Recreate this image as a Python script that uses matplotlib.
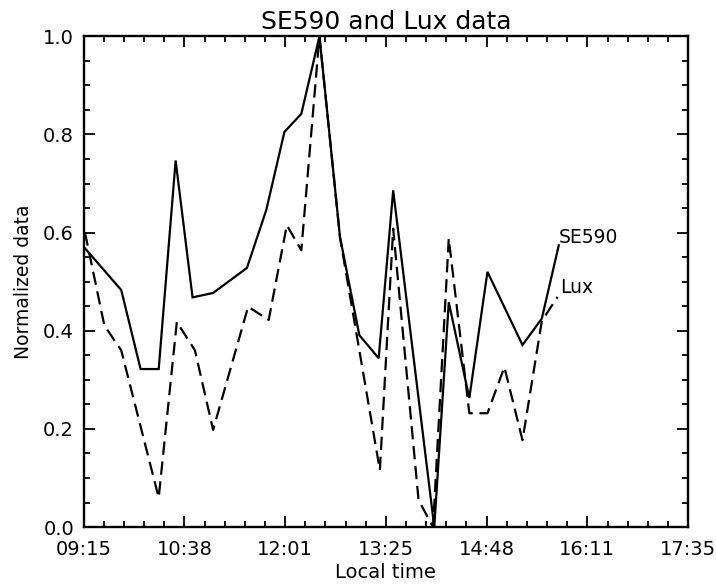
import matplotlib.pyplot as plt
from matplotlib.ticker import MultipleLocator, FixedLocator

# minutes after midnight, normalized values
se590_time = [556, 586, 602, 617, 631, 645, 662, 690, 706, 721, 735, 750,
              767, 783, 799, 811, 845, 857, 874, 889, 918, 934, 948]
se590_vals = [0.568, 0.483, 0.322, 0.322, 0.747, 0.468, 0.477, 0.528, 0.646,
              0.805, 0.842, 1.0, 0.591, 0.391, 0.344, 0.686, 0.0, 0.458,
              0.263, 0.520, 0.371, 0.425, 0.574]

lux_time = [556, 572, 586, 617, 632, 647, 662, 691, 708, 723, 735, 750, 767,
            783, 800, 811, 832, 844, 857, 874, 889, 903, 918, 934, 947]
lux_vals = [0.600, 0.411, 0.360, 0.060, 0.418, 0.360, 0.198, 0.449, 0.422,
            0.615, 0.564, 1.0, 0.59, 0.36, 0.116, 0.608, 0.055, 0.0, 0.588,
            0.232, 0.232, 0.326, 0.177, 0.42, 0.469]

t_start, t_end = 555, 1055
tick_labels = ['09:15', '10:38', '12:01', '13:25', '14:48', '16:11', '17:35']

plt.rcParams['font.family'] = 'DejaVu Sans'

fig = plt.figure(figsize=(7.16, 5.85), dpi=100)
ax = fig.add_axes([0.117, 0.099, 0.844, 0.839])

ax.plot(se590_time, se590_vals, color='black', linewidth=1.6, solid_joinstyle='miter')
ax.plot(lux_time, lux_vals, color='black', linewidth=1.6, dashes=(6, 3))

ax.annotate('SE590', (se590_time[-1], se590_vals[-1]), xytext=(0, 6),
            textcoords='offset points', fontsize=13.5, ha='left', va='center')
ax.annotate('Lux', (lux_time[-1], lux_vals[-1]), xytext=(2, 7),
            textcoords='offset points', fontsize=13.5, ha='left', va='center')

ax.set_xlim(t_start, t_end)
ax.set_ylim(0, 1.0)

step = (t_end - t_start) / 6
major = [t_start + i * step for i in range(7)]
ax.xaxis.set_major_locator(FixedLocator(major))
ax.xaxis.set_minor_locator(FixedLocator([t_start + i * step / 5 for i in range(31)]))
ax.set_xticklabels(tick_labels)
ax.yaxis.set_major_locator(MultipleLocator(0.2))
ax.yaxis.set_minor_locator(MultipleLocator(0.05))
ax.yaxis.set_major_formatter(plt.FormatStrFormatter('%.1f'))

ax.tick_params(which='both', direction='in', top=True, right=True, width=1.3,
               labelsize=14)
ax.tick_params(which='major', length=8, pad=7)
ax.tick_params(which='minor', length=4)
ax.tick_params(axis='x', which='major', pad=9)
for s in ax.spines.values():
    s.set_linewidth(1.7)

ax.set_title('SE590 and Lux data', fontsize=18, pad=5)
ax.set_xlabel('Local time', fontsize=14, labelpad=3)
ax.set_ylabel('Normalized data', fontsize=13.5, labelpad=7)

fig.savefig('out.png', dpi=100)
